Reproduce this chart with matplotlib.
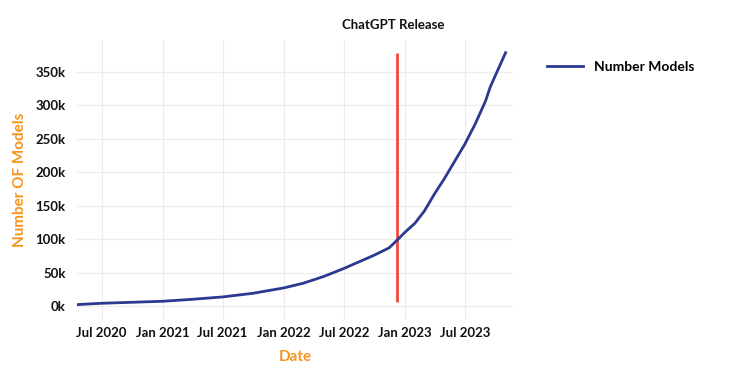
"""Number of models over time, with the ChatGPT release marked."""
import matplotlib
matplotlib.use("Agg")
import matplotlib.pyplot as plt
import matplotlib.dates as mdates
import matplotlib.transforms as mtransforms
import pandas as pd
from matplotlib.ticker import FuncFormatter

plt.rcParams["font.family"] = ["Lato", "DejaVu Sans"]

# values
dates = pd.to_datetime([
    "2020-04-17", "2020-07-01", "2021-01-01", "2021-04-01", "2021-07-01",
    "2021-10-01", "2022-01-01", "2022-03-01", "2022-05-01", "2022-07-01",
    "2022-10-01", "2022-11-15", "2022-12-08", "2023-01-01", "2023-02-01",
    "2023-03-01", "2023-04-01", "2023-05-01", "2023-06-01", "2023-07-01",
    "2023-08-01", "2023-09-01", "2023-09-16", "2023-11-01",
])
n_models = [
    2000, 4000, 7000, 10000, 13500,
    19000, 27000, 34000, 44000, 56000,
    76000, 87000, 98000, 110000, 124000,
    142000, 168000, 191000, 217000, 242000,
    272000, 306000, 328000, 379000,
]
release_date = pd.Timestamp("2022-12-08")
release_span = [6000, 379000]

x_ticks = pd.to_datetime(["2020-07-01", "2021-01-01", "2021-07-01", "2022-01-01",
                          "2022-07-01", "2023-01-01", "2023-07-01"])
y_ticks = [0, 50000, 100000, 150000, 200000, 250000, 300000, 350000]

NAVY = "#2b3990"
RED = "#f04a3e"
ORANGE = "#f7941d"

fig = plt.figure(figsize=(7.5, 3.89), dpi=100)
ax = fig.add_axes([0.1023, 0.1774, 0.582, 0.7198])

ax.plot(dates, n_models, color=NAVY, lw=2, label="Number Models", zorder=3)
ax.vlines(release_date, release_span[0], release_span[1], color=RED, lw=2, zorder=2)

trans = mtransforms.blended_transform_factory(ax.transData, ax.transAxes)
ax.text(release_date - pd.Timedelta(days=10), 1.033, "ChatGPT Release", transform=trans,
        ha="center", va="bottom", fontsize=9.5, fontweight="bold", color="#111111")

ax.set_xlim(dates[0], pd.Timestamp("2023-11-24"))
ax.set_ylim(-21000, 398000)
ax.set_xticks(x_ticks)
ax.xaxis.set_major_formatter(mdates.DateFormatter("%b %Y"))
ax.set_yticks(y_ticks)
ax.yaxis.set_major_formatter(FuncFormatter(lambda v, _: f"{int(v / 1000)}k"))

ax.grid(True, color="#ececec", lw=0.8)
ax.set_axisbelow(True)
for s in ax.spines.values():
    s.set_visible(False)
ax.tick_params(axis="y", length=0, labelsize=9.5, pad=8)
ax.tick_params(axis="x", length=0, labelsize=9.5, pad=5)
for lab in ax.get_xticklabels() + ax.get_yticklabels():
    lab.set_fontweight("bold")
    lab.set_color("#111111")

ax.set_xlabel("Date", color=ORANGE, fontsize=11, fontweight="bold", labelpad=8)
ax.set_ylabel("Number OF Models", color=ORANGE, fontsize=11, fontweight="bold", labelpad=6)

fig.legend(loc="center left", bbox_to_anchor=(0.713, 0.829), frameon=False,
           handlelength=2.6, handletextpad=0.8, prop={"weight": "bold", "size": 10})

fig.savefig("out.png", dpi=100)
